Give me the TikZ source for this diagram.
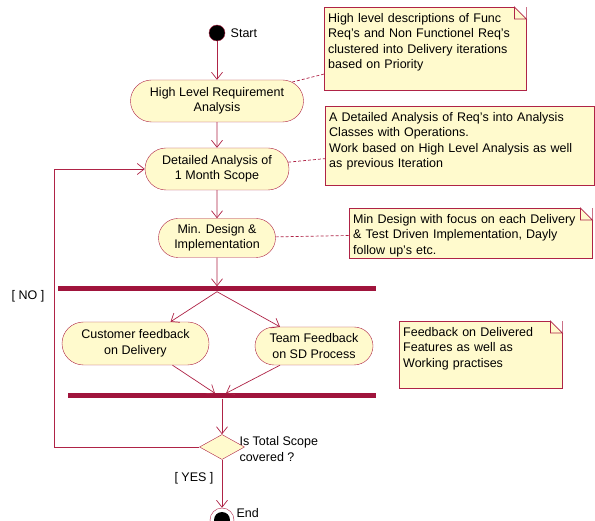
\documentclass[tikz,border=0pt]{standalone}
\usepackage{fontspec}
\setmainfont{Liberation Sans}
\usetikzlibrary{shapes.misc,shapes.geometric,arrows.meta}
\definecolor{umlred}{RGB}{175,35,70}
\definecolor{umlbar}{RGB}{160,20,60}
\definecolor{umlfill}{RGB}{255,250,205}
\begin{document}
\begin{tikzpicture}[x=1pt,y=-1pt,font=\fontsize{12.5}{15.5}\selectfont,
	act/.style={rounded rectangle,draw=umlred,fill=umlfill,align=center,inner sep=2pt,minimum height=42pt},
	notebox/.style={rectangle,draw=umlred,fill=umlfill,align=left,anchor=north west,inner sep=4pt,text height=11pt},
	bar/.style={fill=umlbar,inner sep=0pt,minimum height=5pt},
	flow/.style={draw=umlred,line width=0.7pt,-{Straight Barb[length=7pt,width=11pt]}},
	link/.style={draw=umlred,line width=0.7pt,dash pattern=on 3pt off 2pt}]
	\fill[white] (0,0) rectangle (595,521);
	\useasboundingbox (0,0) rectangle (595,521);
	\node[circle,fill=black,draw=umlred,minimum size=16pt,inner sep=0pt] (start) at (217,33) {};
	\node[right] (startlbl) at ([xshift=2pt]start.east) {Start};
	\node[act,minimum width=177pt] (hlra) at (217,101) {High Level Requirement\\Analysis};
	\node[act,minimum width=148pt] (da) at (217,169) {Detailed Analysis of\\1 Month Scope};
	\node[act,minimum width=121pt,minimum height=39pt] (mdi) at (217,238) {Min. Design \&\\Implementation};
	\node[bar,minimum width=318pt] (fork) at (217,289) {};
	\node[act,minimum width=151pt,minimum height=43pt] (cf) at (135.5,343.5) {Customer feedback\\on Delivery};
	\node[act,minimum width=122pt,minimum height=38pt] (tf) at (314,346) {Team Feedback\\on SD Process};
	\node[bar,minimum width=308pt] (join) at (222,396) {};
	\node[diamond,draw=umlred,fill=umlfill,minimum width=45pt,minimum height=25pt,inner sep=0pt] (dec) at (222,447) {};
	\node[anchor=west,align=left] (declbl) at (236,449) {Is Total Scope\\covered ?};
	\node[circle,draw=umlred,minimum size=24pt,inner sep=0pt,path picture={\fill (path picture bounding box.center) circle (8pt);}] (fin) at (222,520) {};
	\node[right] (finlbl) at (233,513) {End};
	\node (nolbl) at (28,296) {[ NO ]};
	\node (yeslbl) at (194,478) {[ YES ]};
	\node[notebox,text width=194pt,text depth=64pt] (n1) at (324,7) {High level descriptions of Func\\Req's and Non Functionel Req's\\clustered into Delivery iterations\\based on Priority};
	\node[notebox,text width=261pt,text depth=60pt] (n2) at (325,106) {A Detailed Analysis of Req's into Analysis\\Classes with Operations.\\Work based on High Level Analysis as well\\as previous Iteration};
	\node[notebox,text width=235pt,text depth=31pt] (n3) at (349,208) {Min Design with focus on each Delivery\\\& Test Driven Implementation, Dayly\\follow up's etc.};
	\node[notebox,text width=155pt,text depth=48pt] (n4) at (399,321) {Feedback on Delivered\\Features as well as\\Working practises};
	\foreach \n in {n1,n3,n4}{
		\fill[white] ([xshift=-12pt]\n.north east) -- ([yshift=-12pt]\n.north east) |- cycle;
		\draw[umlred,line width=0.7pt] ([xshift=-12pt]\n.north east) -- ([yshift=-12pt]\n.north east) -| cycle;}
	\draw[flow] (start) -- (hlra);
	\draw[flow] (hlra) -- (da);
	\draw[flow] (da) -- (mdi);
	\draw[flow] (mdi) -- (fork);
	\draw[flow] (fork.south) -- ([xshift=35pt]cf.north);
	\draw[flow] (fork.south) -- ([xshift=-34pt]tf.north);
	\draw[flow] ([xshift=37pt]cf.south) -- ([xshift=-7pt]join.north);
	\draw[flow] ([xshift=-34pt]tf.south) -- ([xshift=4pt]join.north);
	\draw[flow] (join) -- (dec);
	\draw[flow] (dec.west) -| ([xshift=-90pt]da.west) -- (da.west);
	\draw[flow] (dec) -- (fin);
	\draw[link] (hlra) -- (n1);
	\draw[link] (da) -- (n2);
	\draw[link] (mdi) -- (n3);
\end{tikzpicture}
\end{document}
